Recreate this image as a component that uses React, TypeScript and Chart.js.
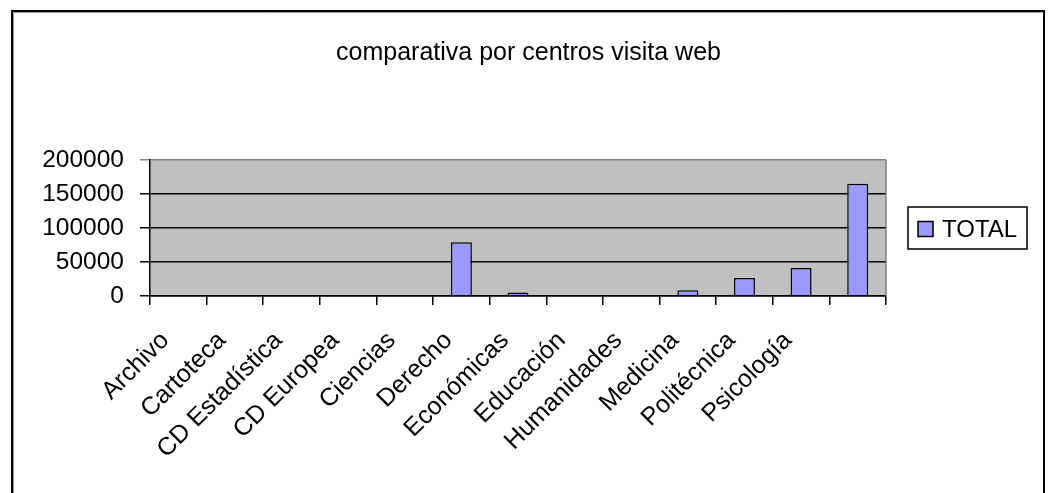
import React, { useEffect, useRef } from "react";
import { Chart, registerables } from "chart.js";

Chart.register(...registerables);

const categories = [
  "Archivo",
  "Cartoteca",
  "CD Estadística",
  "CD Europea",
  "Ciencias",
  "Derecho",
  "Económicas",
  "Educación",
  "Humanidades",
  "Medicina",
  "Politécnica",
  "Psicología",
  "",
];
const totalValues = [0, 0, 0, 0, 0, 79000, 5000, 0, 0, 8500, 26500, 41000, 165000];
const yTickValues = [0, 50000, 100000, 150000, 200000];
const seriesLabel = "TOTAL";
const titleText = "comparativa por centros visita web";

const FONT = "'Liberation Sans', Arial, sans-serif";
const BAR_FILL = "#9999FF";

const decorPlugin = {
  id: "decor",
  beforeDraw(chart: any) {
    const { ctx, chartArea, width, height } = chart;
    ctx.save();
    ctx.fillStyle = "#ffffff";
    ctx.fillRect(0, 0, width, height);
    // outer frame (left, top, right; bottom cut off)
    ctx.strokeStyle = "#000000";
    ctx.lineWidth = 2;
    ctx.beginPath();
    ctx.moveTo(12, height);
    ctx.lineTo(12, 11);
    ctx.lineTo(1044, 11);
    ctx.lineTo(1044, height);
    ctx.stroke();
    ctx.strokeStyle = "#9a9a9a";
    ctx.lineWidth = 1;
    ctx.beginPath();
    ctx.moveTo(13.5, height);
    ctx.lineTo(13.5, 12.5);
    ctx.lineTo(1042.5, 12.5);
    ctx.stroke();
    // plot area
    ctx.fillStyle = "#C0C0C0";
    ctx.fillRect(chartArea.left, chartArea.top, chartArea.right - chartArea.left, chartArea.bottom - chartArea.top);
    ctx.restore();
  },
  afterDraw(chart: any) {
    const { ctx, chartArea } = chart;
    ctx.save();
    // plot area right edge (gray)
    ctx.strokeStyle = "#808080";
    ctx.lineWidth = 1.5;
    ctx.beginPath();
    ctx.moveTo(chartArea.right, chartArea.top);
    ctx.lineTo(chartArea.right, chartArea.bottom);
    ctx.stroke();
    // legend
    const ds = chart.data.datasets[0];
    const lx = chartArea.right + 22;
    const cy = (chartArea.top + chartArea.bottom) / 2;
    ctx.fillStyle = "#ffffff";
    ctx.fillRect(lx, cy - 21, 119, 42);
    ctx.strokeStyle = "#000000";
    ctx.lineWidth = 1.5;
    ctx.strokeRect(lx, cy - 21, 119, 42);
    ctx.fillStyle = ds.backgroundColor;
    ctx.fillRect(lx + 10, cy - 6.5, 15, 15);
    ctx.strokeRect(lx + 10, cy - 6.5, 15, 15);
    ctx.fillStyle = "#000000";
    ctx.font = `24px ${FONT}`;
    ctx.textBaseline = "middle";
    ctx.textAlign = "left";
    ctx.fillText(ds.label, lx + 34, cy + 2);
    ctx.restore();
  },
};

export default function App() {
  const canvasRef = useRef<HTMLCanvasElement | null>(null);

  useEffect(() => {
    const canvas = canvasRef.current;
    if (!canvas) return;
    const chart = new Chart(canvas, {
      type: "bar",
      data: {
        labels: categories,
        datasets: [
          {
            label: seriesLabel,
            data: totalValues,
            backgroundColor: BAR_FILL,
            borderColor: "#000000",
            borderWidth: 1.5,
            barPercentage: 0.37,
            categoryPercentage: 1,
            yAxisID: "y",
          },
        ],
      },
      options: {
        responsive: false,
        animation: false,
        devicePixelRatio: 1,
        layout: { padding: { left: 7, right: 0, top: 0, bottom: 0 } },
        plugins: {
          legend: { display: false },
          tooltip: { enabled: false },
          title: {
            display: true,
            text: titleText,
            color: "#000000",
            font: { family: FONT, size: 25, weight: "normal" },
            padding: { top: 38, bottom: 92 },
          },
        },
        scales: {
          x: {
            offset: true,
            grid: {
              display: true,
              offset: true,
              drawOnChartArea: false,
              drawTicks: true,
              tickLength: 9,
              color: "#000000",
              lineWidth: 1.5,
            },
            border: { display: true, color: "#000000", width: 1.5 },
            ticks: {
              autoSkip: false,
              minRotation: 45,
              maxRotation: 45,
              padding: 21,
              labelOffset: -13,
              color: "#000000",
              font: { family: FONT, size: 25 },
            },
            afterFit: (s: any) => {
              s.height = 493 - 296;
            },
          },
          y: {
            position: "left",
            min: 0,
            max: 200000,
            afterBuildTicks: (s: any) => {
              s.ticks = yTickValues.map((v) => ({ value: v }));
            },
            grid: {
              display: true,
              drawTicks: true,
              tickLength: 10,
              color: (c: any) => (c.tick && c.tick.value === 200000 ? "#808080" : "#000000"),
              lineWidth: 1.5,
            },
            border: { display: true, color: "#000000", width: 1.5 },
            ticks: {
              padding: 16,
              color: "#000000",
              font: { family: FONT, size: 24.5 },
              callback: (v: any) => String(v),
            },
            afterFit: (s: any) => {
              s.width = 143;
            },
          },
          y2: {
            position: "right",
            display: true,
            grid: { display: false, drawTicks: false },
            ticks: { display: false },
            border: { display: false },
            afterFit: (s: any) => {
              s.width = 164;
            },
          },
        },
      },
      plugins: [decorPlugin],
    } as any);
    return () => chart.destroy();
  }, []);

  return (
    <div style={{ position: "fixed", left: 0, top: 0, width: 1050, height: 493, background: "#fff" }}>
      <canvas ref={canvasRef} width={1050} height={493} style={{ display: "block" }} />
    </div>
  );
}
